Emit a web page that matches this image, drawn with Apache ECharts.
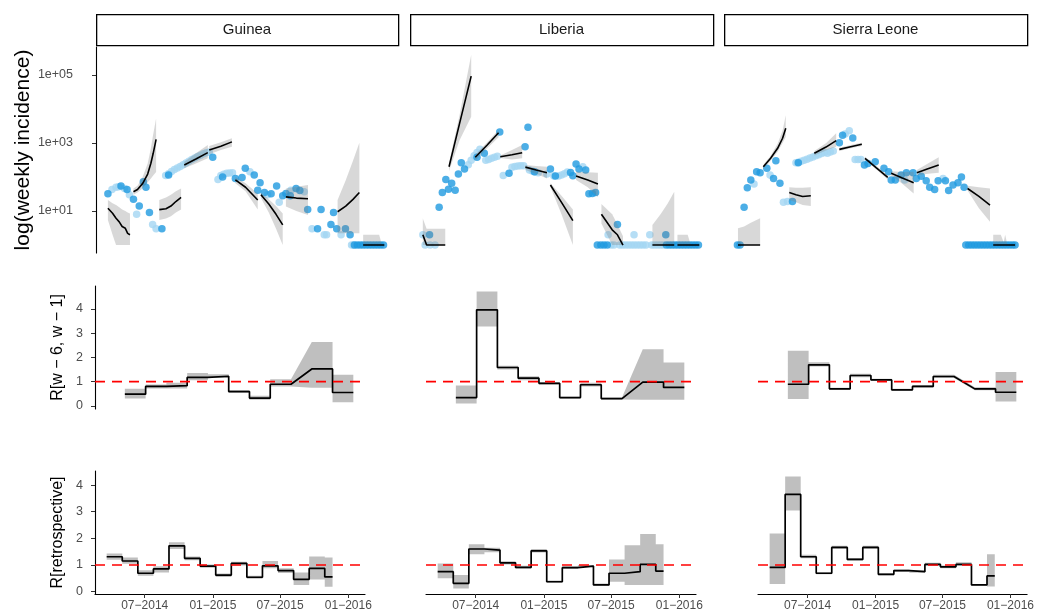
<!DOCTYPE html>
<html><head><meta charset="utf-8">
<script src="https://cdn.jsdelivr.net/npm/echarts@6/dist/echarts.min.js"></script>
<style>html,body{margin:0;padding:0;background:#fff}#c{width:1037px;height:615px}</style>
</head><body><div id="c"></div><script>
// ---------- data ----------
const countries = ['Guinea', 'Liberia', 'Sierra Leone'];
const weekZero = '2014-02-17';              // week 0 of the x range
const weekSpan = 104;                        // weeks shown on each panel
const xTickDates = ['2014-07-01', '2015-01-01', '2015-07-01', '2016-01-01'];
const xTickLabels = ['07\u22122014', '01\u22122015', '07\u22122015', '01\u22122016'];
const incTicks = [1, 3, 5];                  // log10 positions
const incTickLabels = ['1e+01', '1e+03', '1e+05'];
const rTicks = [0, 1, 2, 3, 4];
const rowTitles = ['log(weekly incidence)', 'R[w \u2212 6, w \u2212 1]', 'R[retrospective]'];

// weekly incidence points: [week, incidence]
const guineaDark = [[4.1,32],[8.6,54],[10.7,43],[12.9,22],[14.9,14],[16.3,73],[17.2,50],[18.4,9],[22.7,3],[25,115],[40.2,380],[43.6,100],[48,91],[50.3,97],[51.4,180],[54.5,115],[55.7,41],[56.5,68],[58,35],[60.3,32],[62.2,54],[64.3,28],[65.4,33],[66.9,28],[68.9,46],[70.2,40],[72.9,11],[76.3,3],[77.5,11],[80.9,4],[81.8,9],[82.9,3],[85.9,3],[87.5,2],[89,1],[90,1],[91,1],[92,1],[93,1],[94,1],[95,1],[96,1],[97,1],[98,1],[99,1]];
const guineaLight = [[5.5,43],[6.9,50],[7.8,52],[9.8,46],[11.5,30],[14,8],[19.5,4],[20.7,3],[24,110],[25,125],[26,145],[27,165],[28,185],[29,205],[30,230],[31,260],[32,290],[33,330],[34,365],[35,400],[36,440],[37,480],[38,520],[39,545],[42,85],[43,110],[44,120],[45,128],[46,132],[47,133],[53,143],[59.1,30],[63.1,18],[67.1,41],[71.7,37],[74.4,3],[78.6,2],[79.4,2],[84.4,2],[88,1],[88.6,1]];
const liberiaDark = [[6.7,2],[10,13],[11.1,35],[12.3,85],[13.2,44],[14.3,65],[15.5,41],[16.6,122],[17.6,262],[18.7,171],[23,380],[25.5,500],[30.8,2100],[34,128],[39.5,780],[40.5,2900],[42.7,143],[48.2,171],[49.9,107],[55.1,135],[55.9,109],[57,240],[58,171],[60.3,160],[61.4,32],[62.6,33],[63.7,35],[64.3,1],[65.5,1],[66.6,1],[67.7,1],[71.2,4],[87.8,2],[88,1],[89,1],[90,1],[91,1],[92,1],[93,1],[94,1],[95,1],[96,1],[97,1],[98,1],[99,1]];
const liberiaLight = [[4.4,2],[5.2,1],[6.9,1],[8.6,1],[20,230],[21,310],[22,420],[23,530],[24,650],[26,310],[27,330],[28,355],[29,380],[30,410],[32,110],[35,195],[36,205],[37,210],[38,213],[39,215],[41,160],[42,150],[43,140],[44,133],[47,122],[49.4,107],[51,107],[52,115],[53,125],[54,140],[59.3,200],[68,2],[69,1],[70,1],[72,1],[73,1],[74,1],[75,1],[76,1],[76.9,2],[77,1],[78,1],[79,1],[80,1],[81,1],[82.3,2],[83,1],[84,1],[85,1],[86,1],[87,1]];
const sierraDark = [[4.6,1],[5.5,1],[6.9,13],[8,48],[9.2,82],[11.2,143],[12.4,133],[14.7,180],[17,91],[17.8,300],[19.2,65],[23.5,19],[25.5,262],[39.6,1020],[40.7,1700],[44.2,1400],[48.2,225],[49.4,250],[51.9,280],[54.9,180],[56.5,143],[57.4,82],[58.8,82],[60.8,115],[62.6,133],[64.9,133],[66,91],[67.7,105],[69.4,77],[70.6,50],[72.3,43],[73.5,77],[76,77],[77.1,40],[78.6,58],[80.3,68],[81.5,100],[82.4,50],[83,1],[84,1],[85,1],[86,1],[87,1],[88,1],[89,1],[90,1],[91,1],[92,1],[93,1],[94,1],[95,1],[96,1],[97,1],[98,1],[99,1],[99.9,1]];
const sierraLight = [[10.3,62],[15.8,115],[20.4,18],[21.8,19],[24.7,262],[25.5,270],[26.5,290],[27.5,310],[28.5,335],[29.5,360],[30.5,390],[31.5,420],[32.5,455],[33.5,490],[34.5,530],[35.5,500],[36.5,540],[37.5,580],[41.6,1850],[43,2300],[45,330],[46,330],[47,325],[62,82],[75.2,91]];

// projections: segments of [week, fit, lower, upper]
const guineaProj = [
  [[4.1,12,5.4,21],[5.7,8.6,2,17],[6.9,6.1,1,15],[8,4.8,1,13],[9,3.5,1,11],[10.1,3.1,1,10],[10.9,2.2,1,9],[11.7,2,1,8.5]],
  [[12.9,37,30,46],[14.3,43,35,55],[16.1,65,47,102],[17.8,122,70,250],[18.9,253,90,700],[19.7,498,110,1800],[20.7,1285,140,5300]],
  [[21.8,11,5.4,21],[24.1,11.7,6,25],[25.8,14,7,30],[27.5,19,9,38],[29.3,25,11,46]],
  [[30.4,225,180,280],[34.4,340,250,500],[38.5,520,355,870]],
  [[39,620,470,810],[43,800,620,1050],[46.8,1080,780,1370]],
  [[48,82,65,100],[51.5,50,38,65],[55.7,21,11,33]],
  [[56.8,30,24,35],[59.5,16,9,22],[62,8,3,14],[64.3,3.9,1,8.5]],
  [[65.4,26,13.5,46],[69,24,10,52],[73,23,7.6,58]],
  [[83.2,9.5,2.2,21],[86,14,2.2,80],[88.5,22,2.2,300],[90.7,35,2.2,1020]],
  [[92,1,1,2],[97.5,1,1,2],[98.5,1,1,1],[99.3,1,1,1]]
];
const liberiaProj = [
  [[4.4,2,1,6],[5.7,1,1,3],[12.1,1,1,3]],
  [[13.4,201,150,260],[17,3700,1200,6500],[21,93000,5900,390000]],
  [[22.4,380,300,450],[26.5,870,700,1050],[30.4,2000,1470,2400]],
  [[31,395,360,430],[35,450,330,620],[38.5,520,355,870]],
  [[39.6,195,160,225],[43.3,160,125,210],[47,133,91,200]],
  [[48.2,58,52,65],[52,18,8,28],[55.9,5.2,1,11]],
  [[57,107,82,143],[61,82,50,138],[64.5,62,26,133]],
  [[65.7,8,4.3,16],[69.4,2.8,1,8],[71.2,2,1,4],[73.1,1,1,1.8]],
  [[83.2,1,1,3.9],[86,1,1,8],[88.5,1,1,17],[90.7,1,1,37]],
  [[91.8,1,1,2],[95.3,1,1,2],[96.4,1,1,1],[99.3,1,1,1]]
];
const sierraProj = [
  [[4.8,1,1,3.1],[6.9,1,1,3.5],[9.2,1,1,4.5],[12.4,1,1,6.1]],
  [[13.5,200,175,230],[16,355,300,420],[18.4,700,550,950],[20.1,1380,1000,2300],[21.2,2700,1530,6600]],
  [[22.4,35,21,50],[24.7,30,18,48],[27,26.6,15,48],[29.8,28,14,50]],
  [[31,500,430,580],[35,760,600,980],[38.5,1170,780,1930]],
  [[39.6,650,580,730],[43.5,780,700,870],[47.3,915,820,1020]],
  [[48.4,355,320,395],[52.3,185,165,210],[56.2,98,85,112]],
  [[57.4,128,110,148],[61,95,65,140],[65.1,68,33,143]],
  [[66.2,133,110,160],[70,175,125,250],[73.7,225,133,380]],
  [[83.6,46,40,55],[87.5,27,12,50],[91.3,15,4.8,46]],
  [[92.4,1,1,2],[95,1,1,2],[96,1,1,1.2],[96.5,1,1,2],[97.3,1,1,1],[99.9,1,1,1]]
];

// R over 8-week windows (null = not estimated)
const rwEdges = [11.5,19.5,27.5,35.5,43.5,51.5,59.5,67.5,75.5,83.5,91.5,99.5];
const guineaRw   = [0.48,0.80,0.83,1.17,1.22,0.59,0.32,0.89,null,1.52,0.55];
const guineaRwLo = [0.30,0.72,0.72,1.05,1.15,0.55,0.25,0.80,null,0.75,0.15];
const guineaRwHi = [0.70,0.88,0.95,1.35,1.30,0.65,0.42,1.10,null,2.63,1.28];
const liberiaRw   = [0.34,3.96,1.58,1.14,0.93,0.34,0.87,0.30,null,0.98,0.76];
const liberiaRwLo = [0.10,3.27,1.50,1.05,0.88,0.30,0.80,0.26,null,0.25,0.25];
const liberiaRwHi = [0.84,4.71,1.65,1.22,0.98,0.38,0.95,0.34,null,2.33,1.79];
const sierraRw   = [0.89,1.69,0.70,1.25,1.07,0.66,0.80,1.21,null,0.70,0.56];
const sierraRwLo = [0.28,1.62,0.66,1.18,1.03,0.62,0.75,1.15,null,0.64,0.18];
const sierraRwHi = [2.27,1.80,0.75,1.32,1.12,0.70,0.86,1.28,null,0.77,1.39];

// retrospective R over 6-week windows
const retroEdges = [4.5,10.5,16.5,22.5,28.5,34.5,40.5,46.5,52.5,58.5,64.5,70.5,76.5,82.5,88.5,91.5];
const guineaRetro   = [1.31,1.15,0.69,0.85,1.72,1.25,0.96,0.62,1.06,0.54,0.97,0.79,0.46,0.87,0.55];
const guineaRetroLo = [1.20,1.05,0.60,0.72,1.60,1.18,0.90,0.55,0.98,0.48,0.88,0.70,0.25,0.45,0.18];
const guineaRetroHi = [1.43,1.28,0.80,0.95,1.85,1.32,1.02,0.68,1.12,0.60,1.15,0.88,0.72,1.32,1.28];
const liberiaRetro   = [0.75,0.31,1.60,1.56,1.08,0.91,1.53,0.37,0.90,0.96,0.25,0.69,0.75,1.02,0.77];
const liberiaRetroLo = [0.50,0.12,1.40,1.48,1.02,0.86,1.47,0.33,0.85,0.92,0.22,0.37,0.25,0.25,0.25];
const liberiaRetroHi = [1.06,0.62,1.78,1.65,1.14,0.97,1.60,0.42,0.95,1.00,0.30,1.21,1.74,2.16,1.78];
const sierraRetro   = [0.91,3.65,1.31,0.69,1.66,1.21,1.66,0.65,0.79,0.75,1.02,0.93,1.02,0.25,0.59];
const sierraRetroLo = [0.29,3.05,1.25,0.65,1.60,1.16,1.60,0.61,0.75,0.71,0.97,0.88,0.97,0.22,0.19];
const sierraRetroHi = [2.18,4.32,1.38,0.73,1.72,1.26,1.72,0.70,0.83,0.79,1.08,0.98,1.10,0.29,1.40];

const refLevel = 1;

// ---------- build ----------
const t0 = Date.parse(weekZero + 'T00:00:00Z');
const tickWeeks = xTickDates.map(d => (Date.parse(d + 'T00:00:00Z') - t0) / (7 * 864e5));
const lg = v => Math.log10(v);

const dark = [guineaDark, liberiaDark, sierraDark];
const light = [guineaLight, liberiaLight, sierraLight];
const proj = [guineaProj, liberiaProj, sierraProj];
const rw = [[guineaRw, guineaRwLo, guineaRwHi], [liberiaRw, liberiaRwLo, liberiaRwHi], [sierraRw, sierraRwLo, sierraRwHi]];
const retro = [[guineaRetro, guineaRetroLo, guineaRetroHi], [liberiaRetro, liberiaRetroLo, liberiaRetroHi], [sierraRetro, sierraRetroLo, sierraRetroHi]];

const FONT = 'Liberation Sans, Arial, Helvetica, sans-serif';
const DARK = '#1F9AE0', LIGHT = '#A4D6F2';

const topBoxes = [[96, 302], [410, 303], [724, 303]];
const lowBoxes = [[95, 270], [426, 270], [758, 270]];
const rowGeom = [{top: 47, height: 206}, {top: 286, height: 123}, {top: 471, height: 123}];
const yRange = [[-0.235, 5.8235], [-0.13, 4.94], [-0.09, 4.53]];

const grids = [], xAxes = [], yAxes = [], series = [];
for (let r = 0; r < 3; r++) {
  for (let c = 0; c < 3; c++) {
    const box = r === 0 ? topBoxes[c] : lowBoxes[c];
    const gi = grids.length;
    grids.push({left: box[0], width: box[1], top: rowGeom[r].top, height: rowGeom[r].height, containLabel: false});
    xAxes.push({
      type: 'value', gridIndex: gi, min: 0, max: weekSpan, show: r === 2,
      axisLine: {show: true, onZero: false, lineStyle: {color: '#000', width: 1.1}},
      axisTick: {show: true, customValues: tickWeeks, length: 4, lineStyle: {color: '#333', width: 1}},
      axisLabel: {customValues: tickWeeks, color: '#4D4D4D', fontSize: 12, fontFamily: FONT, margin: 6,
        formatter: v => { let b = 0; tickWeeks.forEach((t, i) => { if (Math.abs(t - v) < Math.abs(tickWeeks[b] - v)) b = i; }); return xTickLabels[b]; }},
      splitLine: {show: false}
    });
    const tv = r === 0 ? incTicks : rTicks;
    yAxes.push({
      type: 'value', gridIndex: gi, min: yRange[r][0], max: yRange[r][1], show: c === 0,
      axisLine: {show: true, onZero: false, lineStyle: {color: '#000', width: 1.1}},
      axisTick: {show: true, customValues: tv, length: 4, lineStyle: {color: '#333', width: 1}},
      axisLabel: {customValues: tv, color: '#4D4D4D', fontSize: 12.5, fontFamily: FONT, margin: r === 0 ? 23 : 12,
        formatter: v => r === 0 ? incTickLabels[incTicks.indexOf(Math.round(v))] : String(Math.round(v))},
      splitLine: {show: false},
      name: rowTitles[r], nameLocation: 'middle', nameGap: r === 0 ? 61 : 29,
      nameTextStyle: {color: '#000', fontSize: r === 0 ? 21 : 16, fontFamily: FONT}
    });

    const band = (upper, lower, fill, z) => ({
      type: 'custom', xAxisIndex: gi, yAxisIndex: gi, z: z, silent: true,
      data: [upper[0]],
      renderItem: (params, api) => {
        const pts = upper.concat(lower.slice().reverse()).map(p => api.coord(p));
        return {type: 'polygon', shape: {points: pts}, style: {fill: fill}};
      }
    });

    if (r === 0) {
      series.push({type: 'scatter', xAxisIndex: gi, yAxisIndex: gi, z: 2, symbolSize: 7.5, silent: true,
        itemStyle: {color: LIGHT}, data: light[c].map(p => [p[0], lg(p[1])])});
      series.push({type: 'scatter', xAxisIndex: gi, yAxisIndex: gi, z: 3, symbolSize: 7.5, silent: true,
        itemStyle: {color: DARK}, data: dark[c].map(p => [p[0], lg(p[1])])});
      proj[c].forEach(seg => {
        series.push(band(seg.map(p => [p[0], lg(p[3])]), seg.map(p => [p[0], lg(p[2])]), 'rgba(127,127,127,0.3)', 4));
      });
      proj[c].forEach(seg => {
        series.push({type: 'line', xAxisIndex: gi, yAxisIndex: gi, z: 5, symbol: 'none', silent: true,
          lineStyle: {color: '#000', width: 1.6}, data: seg.map(p => [p[0], lg(p[1])])});
      });
    } else {
      const edges = r === 1 ? rwEdges : retroEdges;
      const set = r === 1 ? rw[c] : retro[c];
      const steps = vals => {
        const out = [];
        vals.forEach((v, i) => { if (v !== null) { out.push([edges[i], v], [edges[i + 1], v]); } });
        return out;
      };
      series.push(band(steps(set[2]), steps(set[1]), 'rgba(127,127,127,0.5)', 2));
      series.push({type: 'line', xAxisIndex: gi, yAxisIndex: gi, z: 3, symbol: 'none', silent: true,
        lineStyle: {color: '#000', width: 1.7}, data: steps(set[0])});
      series.push({type: 'line', xAxisIndex: gi, yAxisIndex: gi, z: 4, symbol: 'none', silent: true,
        lineStyle: {color: '#FF0000', width: 1.6, type: [10, 7]}, data: [[0, refLevel], [weekSpan, refLevel]]});
    }
  }
}

const graphics = [];
countries.forEach((name, c) => {
  const b = topBoxes[c];
  graphics.push({type: 'rect', left: b[0], top: 14, shape: {width: b[1], height: 31},
    style: {fill: '#fff', stroke: '#000', lineWidth: 1.3}, z: 10});
  graphics.push({type: 'text', x: b[0] + b[1] / 2, y: 29.5, z: 11,
    style: {text: name, fill: '#1A1A1A', font: '15px ' + FONT, textAlign: 'center', textVerticalAlign: 'middle'}});
});

const chart = echarts.init(document.getElementById('c'), null, {renderer: 'canvas'});
chart.setOption({
  animation: false, backgroundColor: '#fff',
  grid: grids, xAxis: xAxes, yAxis: yAxes, series: series, graphic: graphics
});
</script></body></html>
